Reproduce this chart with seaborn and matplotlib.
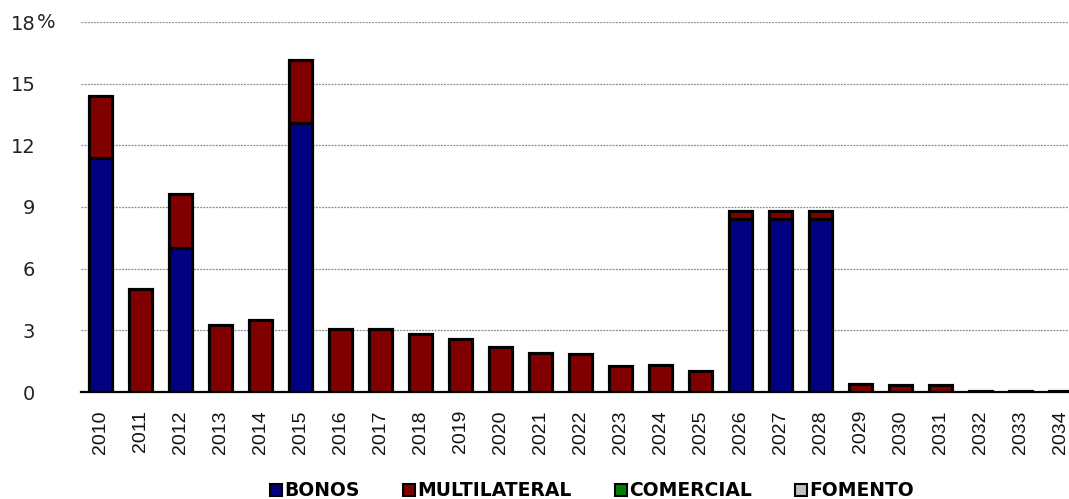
import matplotlib
matplotlib.use("Agg")
import matplotlib.pyplot as plt
from matplotlib.patches import Patch
import numpy as np
import pandas as pd
import seaborn as sns

# Debt amortization profile, % by year and creditor type
years = [str(y) for y in range(2010, 2035)]
bonos = [11.4, 0, 7.0, 0, 0, 13.1, 0, 0, 0, 0, 0, 0, 0, 0, 0, 0,
         8.4, 8.4, 8.4, 0, 0, 0, 0, 0, 0]
multilateral = [3.0, 5.0, 2.65, 3.26, 3.5, 3.05, 3.05, 3.05, 2.83, 2.58, 2.2, 1.88,
                1.84, 1.26, 1.33, 1.04, 0.4, 0.4, 0.4, 0.37, 0.34, 0.34, 0.06, 0.06, 0.06]
comercial = [0.0] * 25
fomento = [0.0] * 25

series_names = ["BONOS", "MULTILATERAL", "COMERCIAL", "FOMENTO"]
series_colors = ["#000080", "#800000", "#008000", "#C0C0C0"]
y_ticks = [0, 3, 6, 9, 12, 15, 18]
y_ticklabels = ["0", "3", "6", "9", "12", "15", "18"]

df = pd.DataFrame({"year": years, "BONOS": bonos, "MULTILATERAL": multilateral,
                   "COMERCIAL": comercial, "FOMENTO": fomento})
# cumulative stack heights, bottom series first
cum = df[series_names].cumsum(axis=1)

sns.set_theme(style="white")
plt.rcParams["font.family"] = ["DejaVu Sans"]

fig = plt.figure(figsize=(10.69, 4.99), dpi=100)
ax = fig.add_axes([80.5 / 1069, 107 / 499, 1000 / 1069, 370 / 499])

# draw stacks from the top layer down so each lower segment covers the one above it
for name, color in reversed(list(zip(series_names, series_colors))):
    sns.barplot(x=df["year"], y=cum[name], ax=ax, color=color, width=0.56,
                edgecolor="black", linewidth=2.2, saturation=1, zorder=3)

ax.set_ylim(0, 18)
ax.set_xlim(-0.5, len(years) - 0.5)
ax.set_yticks(y_ticks)
ax.set_yticklabels(y_ticklabels)
ax.set_xlabel("")
ax.set_ylabel("")
ax.yaxis.grid(True, linestyle=(0, (1.5, 1)), color="#8a8a8a", linewidth=0.9, zorder=0)
ax.xaxis.grid(False)
for side in ["left", "right", "top"]:
    ax.spines[side].set_visible(False)
ax.spines["bottom"].set_color("black")
ax.spines["bottom"].set_linewidth(1.6)
ax.spines["bottom"].set_zorder(4)
ax.tick_params(axis="y", length=0, pad=32.5, labelsize=14, labelcolor="#222222")
ax.tick_params(axis="x", length=0, pad=13, labelsize=14, labelrotation=90,
               labelcolor="#111111")
for lbl in ax.get_xticklabels():
    lbl.set_fontfamily("Liberation Sans")
ax.annotate("%", xy=(0, 18), xycoords=("axes fraction", "data"),
            xytext=(-31.5, 0), textcoords="offset points", ha="left", va="center",
            fontsize=14, color="#222222")

handles = [Patch(facecolor=c, edgecolor="black", linewidth=1.5, label=n)
           for n, c in zip(series_names, series_colors)]
fig.legend(handles=handles, loc="center", bbox_to_anchor=(592 / 1069, 8 / 499),
           ncol=4, frameon=False, handlelength=0.65, handleheight=0.65,
           handletextpad=0.12, columnspacing=2.3, borderpad=0, labelcolor="black",
           prop={"weight": "bold", "size": 13.5})

fig.savefig("out.png", dpi=100)
